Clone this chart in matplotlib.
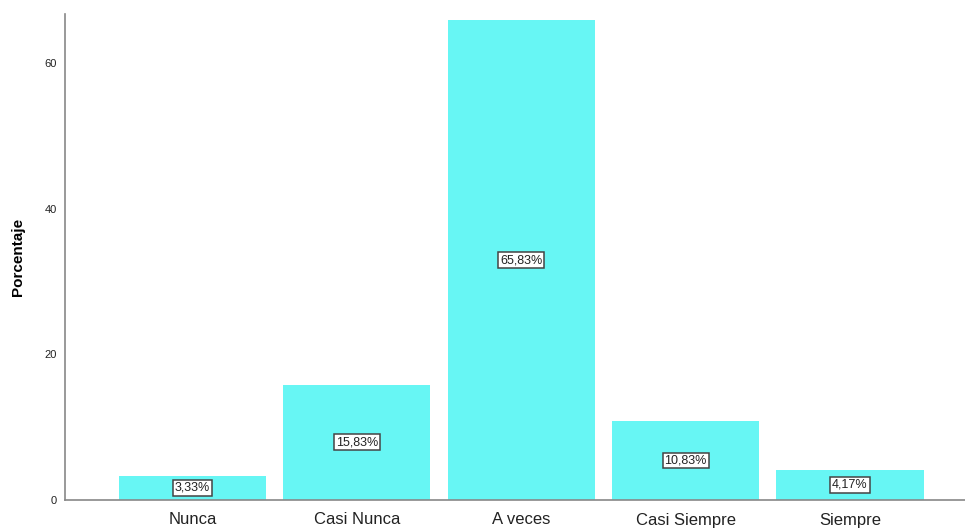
import numpy as np
import matplotlib
matplotlib.use("Agg")
import matplotlib.pyplot as plt

plt.rcParams["font.family"] = ["Liberation Sans", "DejaVu Sans"]

# Response categories and their percentages
categorias = ["Nunca", "Casi Nunca", "A veces", "Casi Siempre", "Siempre"]
porcentajes = [3.33, 15.83, 65.83, 10.83, 4.17]
y_ticks = [0, 20, 40, 60]

fig = plt.figure(figsize=(9.65, 5.29), dpi=100)
ax = fig.add_axes([65 / 965, 29 / 529, 900 / 965, 486 / 529])

x = np.arange(len(categorias))
ax.bar(x, porcentajes, width=0.895, color="#67F6F4", zorder=2)

# value labels in the middle of each bar
for xi, v in zip(x, porcentajes):
    ax.text(xi, v / 2, f"{v:.2f}%".replace(".", ","), ha="center", va="center",
            fontsize=9, color="#222222", zorder=3,
            bbox=dict(boxstyle="square,pad=0.15", facecolor="white",
                      edgecolor="#444444", linewidth=1.1))

ax.set_xlim(-0.776, 4.70)
ax.set_ylim(0, 66.7)
ax.set_xticks(x)
ax.set_xticklabels(categorias, fontsize=12, color="#222222")
ax.set_yticks(y_ticks)
ax.set_yticklabels([str(t) for t in y_ticks], fontsize=8, color="#222222")
ax.tick_params(axis="both", length=0)
ax.tick_params(axis="x", pad=9)
ax.tick_params(axis="y", pad=6)

ax.set_ylabel("Porcentaje", fontsize=11, fontweight="bold", labelpad=14)

for side in ["top", "right"]:
    ax.spines[side].set_visible(False)
for side in ["left", "bottom"]:
    ax.spines[side].set_color("#888888")
    ax.spines[side].set_linewidth(1.2)

fig.savefig("out.png", dpi=100)
